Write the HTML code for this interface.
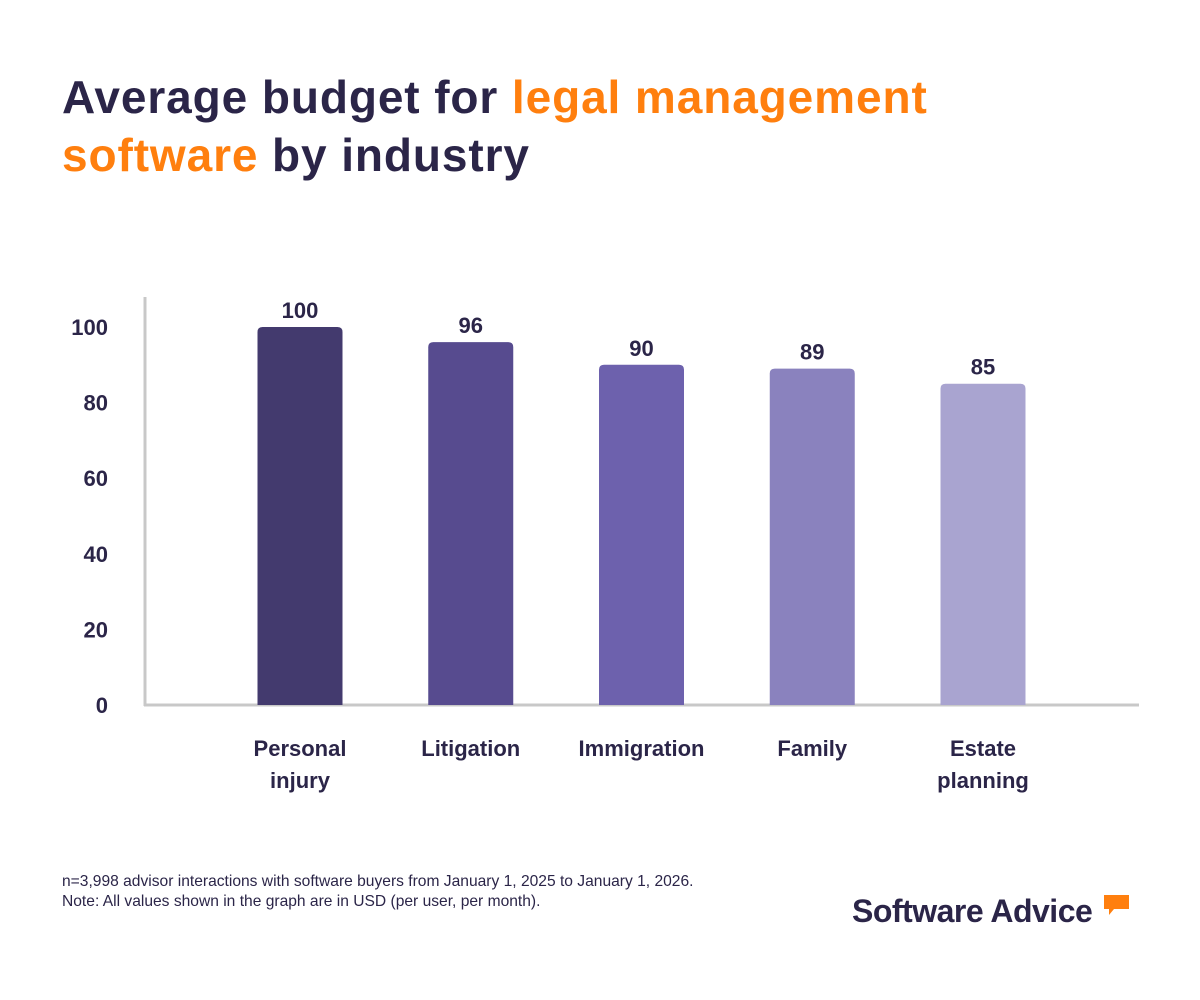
<!DOCTYPE html>
<html><head><meta charset="utf-8"><style>
body{margin:0;background:#fff;width:1200px;height:1000px;overflow:hidden;font-family:"Liberation Sans",sans-serif;}
.title{position:absolute;left:62px;top:68px;font-size:46px;font-weight:bold;color:#2b2548;line-height:58px;letter-spacing:0.9px;}
.title span{color:#ff7f0e;}
.note{position:absolute;left:62px;top:872px;font-size:15.6px;color:#2b2548;line-height:20px;}
.logo{position:absolute;left:852px;top:893px;font-size:32px;font-weight:bold;color:#2b2548;letter-spacing:-0.5px;}
</style></head><body>
<div class="title">Average budget for <span>legal management</span><br><span>software</span> by industry</div>
<svg id="chart" width="1200" height="1000" style="position:absolute;left:0;top:0"></svg>
<div class="note">n=3,998 advisor interactions with software buyers from January 1, 2025 to January 1, 2026.<br>Note: All values shown in the graph are in USD (per user, per month).</div>
<div class="logo">Software Advice</div>
<svg width="30" height="26" style="position:absolute;left:1102px;top:893px"><path d="M2 2h25v14H12l-5 6v-6H2z" fill="#ff7f0e"/></svg>
<script>
const categories=[["Personal","injury"],["Litigation"],["Immigration"],["Family"],["Estate","planning"]];
const values=[100,96,90,89,85];
const ticks=[0,20,40,60,80,100];
const colors=["#433a6e","#574b8f","#6d61ad","#8a82be","#a9a4d0"];
const svg=document.getElementById('chart');const NS="http://www.w3.org/2000/svg";
const y0=705,pxPer=3.78,x0=300,step=170.75,bw=85;
const y=v=>y0-v*pxPer,x=i=>x0+i*step;
function mk(t,a,txt){const e=document.createElementNS(NS,t);for(const k in a)e.setAttribute(k,a[k]);if(txt!==undefined)e.textContent=txt;svg.appendChild(e);return e;}
let e=mk('line',{x1:145,y1:297,x2:145,y2:706,stroke:'#c8c8c8','stroke-width':3});

e=mk('line',{x1:144,y1:705,x2:1139,y2:705,stroke:'#c8c8c8','stroke-width':3});

ticks.forEach(t=>{const l=mk('text',{x:108,y:y(t)+8,'text-anchor':'end','font-size':22,'font-weight':'bold',fill:'#2b2548'},t);
});
values.forEach((v,i)=>{
const b=mk('path',{d:`M${x(i)-bw/2} ${y0}V${y(v)+5}q0-5 5-5h${bw-10}q5 0 5 5V${y0}z`,fill:colors[i]});

const t=mk('text',{x:x(i),y:y(v)-9,'text-anchor':'middle','font-size':22,'font-weight':'bold',fill:'#2b2548'},v);

categories[i].forEach((s,j)=>{const c=mk('text',{x:x(i),y:756+j*32,'text-anchor':'middle','font-size':22,'font-weight':'bold',fill:'#2b2548'},s);
});});
</script>
</body></html>
